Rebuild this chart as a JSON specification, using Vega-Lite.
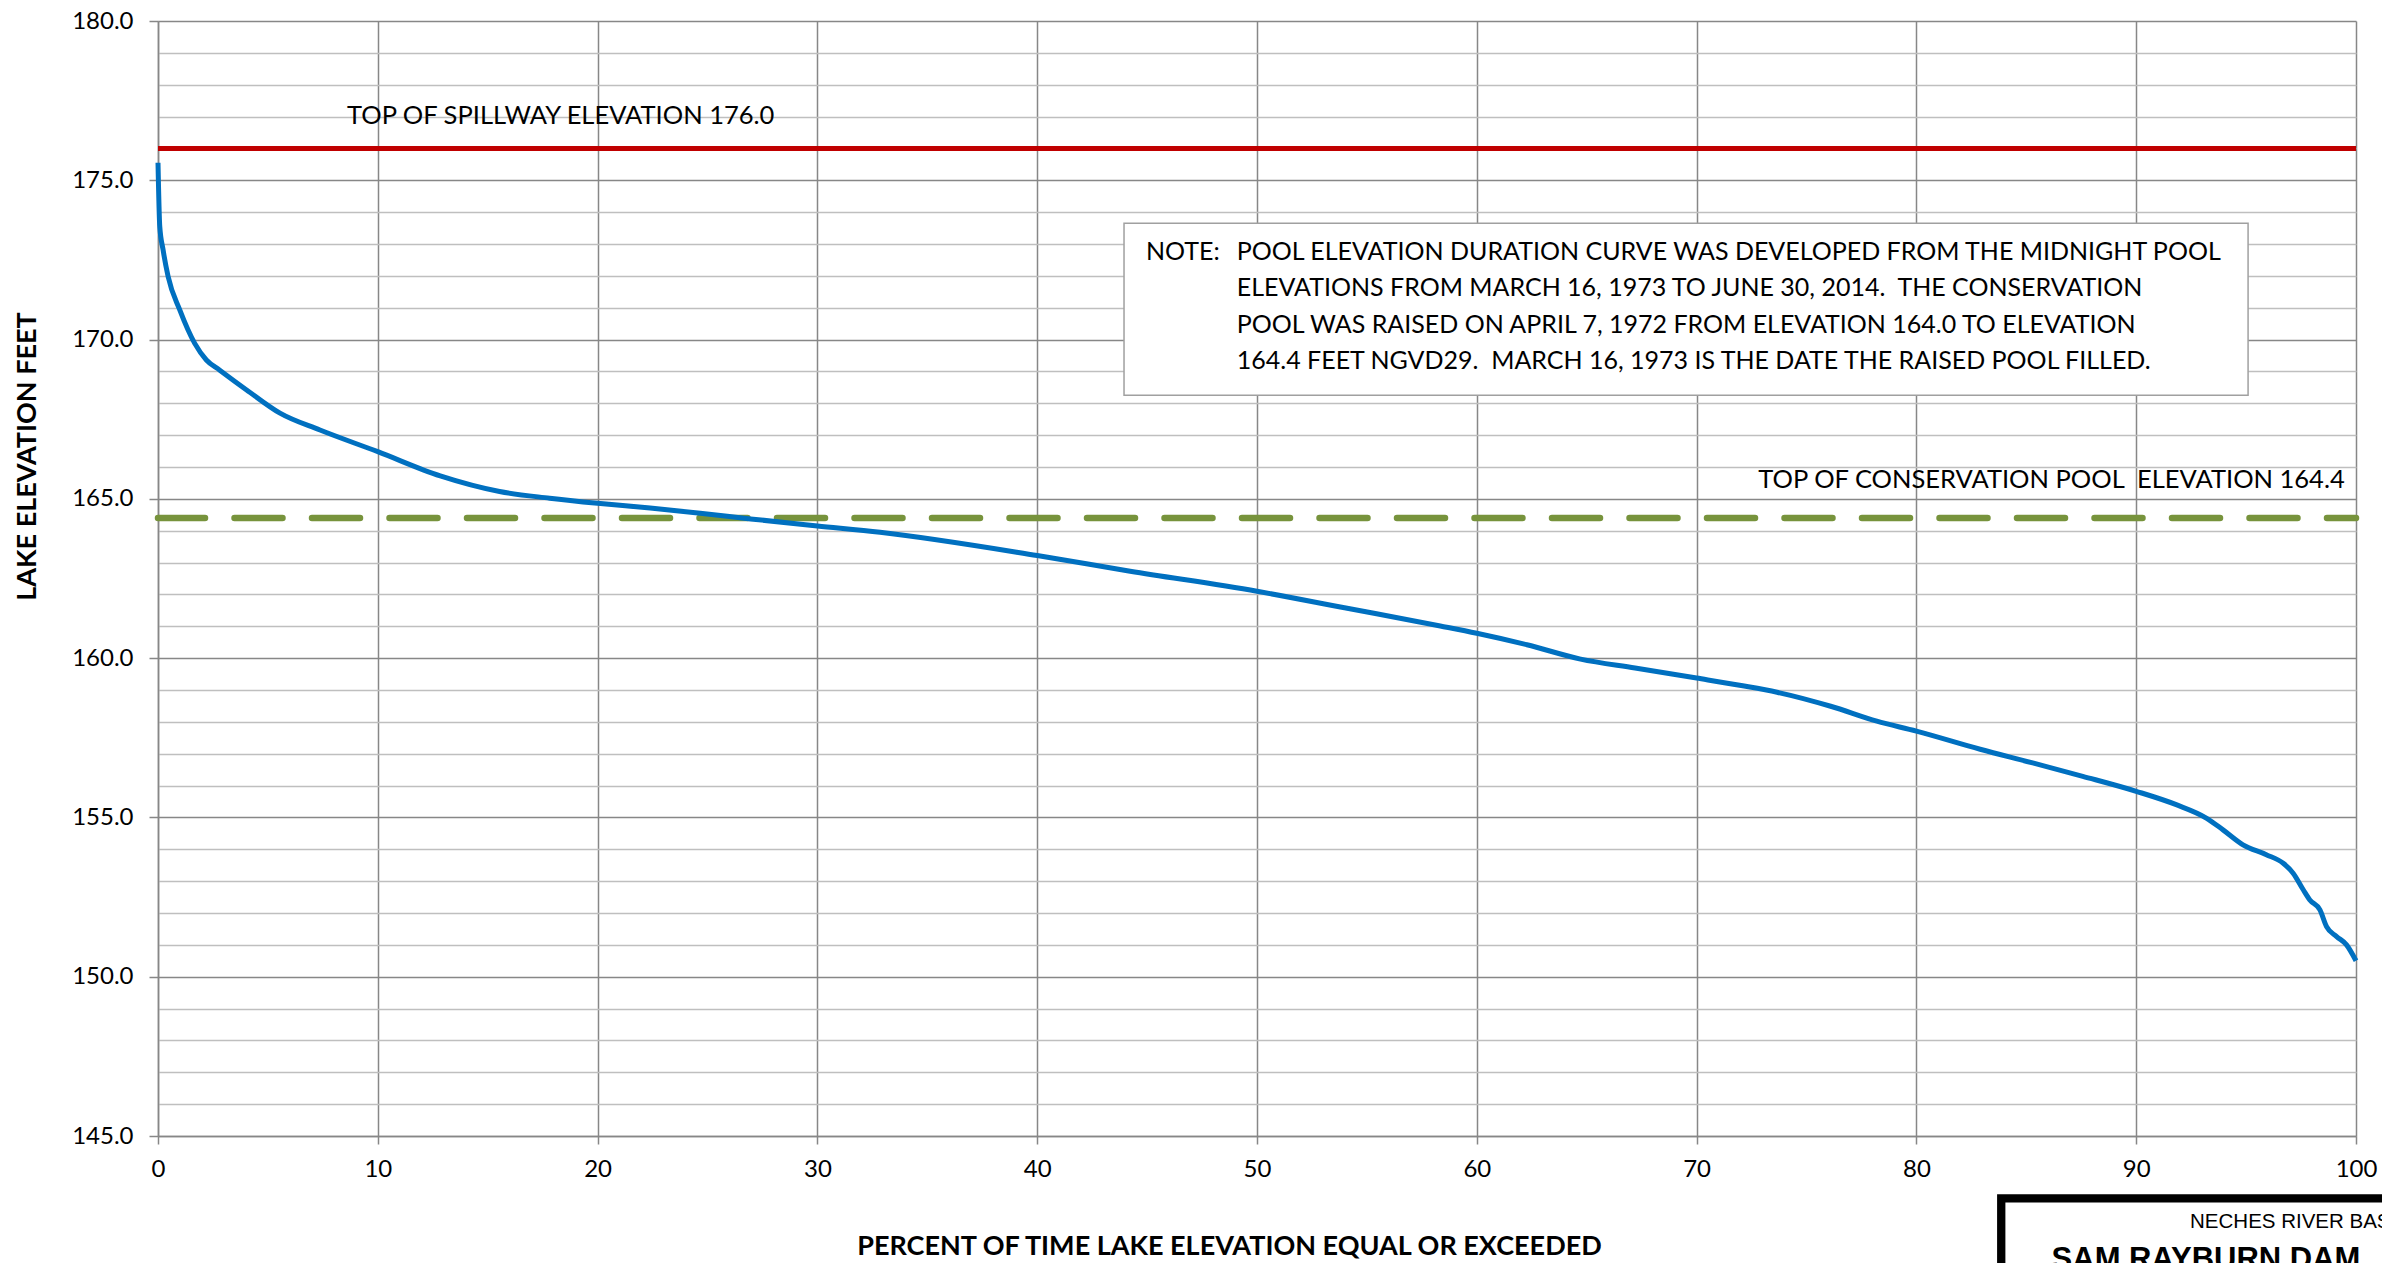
{
  "$schema": "https://vega.github.io/schema/vega-lite/v6.json",
  "width": 2198,
  "height": 1115,
  "autosize": {"type": "none"},
  "padding": {"left": 158, "top": 21, "right": 26, "bottom": 127},
  "background": "white",
  "config": {"view": {"stroke": null}, "font": "Lato"},
  "datasets": {
    "curve": [
      {"pct": 0, "elev": 175.55},
      {"pct": 0.08, "elev": 173.55},
      {"pct": 0.23, "elev": 172.82},
      {"pct": 0.46, "elev": 171.98},
      {"pct": 0.99, "elev": 170.93},
      {"pct": 1.67, "elev": 169.88},
      {"pct": 2.2, "elev": 169.36},
      {"pct": 2.81, "elev": 169.04},
      {"pct": 4.03, "elev": 168.42},
      {"pct": 5.55, "elev": 167.69},
      {"pct": 7.37, "elev": 167.16},
      {"pct": 10, "elev": 166.48},
      {"pct": 12.84, "elev": 165.72},
      {"pct": 15.54, "elev": 165.23},
      {"pct": 17.82, "elev": 165.02},
      {"pct": 20, "elev": 164.86},
      {"pct": 22.39, "elev": 164.71},
      {"pct": 24.67, "elev": 164.55},
      {"pct": 26.96, "elev": 164.37},
      {"pct": 30, "elev": 164.15},
      {"pct": 32.85, "elev": 163.95},
      {"pct": 40, "elev": 163.22},
      {"pct": 44.23, "elev": 162.73},
      {"pct": 50, "elev": 162.1},
      {"pct": 53.98, "elev": 161.58},
      {"pct": 58.34, "elev": 161.01},
      {"pct": 60, "elev": 160.78},
      {"pct": 62.28, "elev": 160.42},
      {"pct": 64.72, "elev": 159.97},
      {"pct": 67.2, "elev": 159.69},
      {"pct": 70, "elev": 159.375},
      {"pct": 72.03, "elev": 159.14},
      {"pct": 73.66, "elev": 158.93},
      {"pct": 76.1, "elev": 158.49},
      {"pct": 78.2, "elev": 158.02},
      {"pct": 80, "elev": 157.71},
      {"pct": 82.9, "elev": 157.14},
      {"pct": 85.29, "elev": 156.71},
      {"pct": 87.57, "elev": 156.29},
      {"pct": 90, "elev": 155.82},
      {"pct": 91.82, "elev": 155.4},
      {"pct": 93.19, "elev": 154.98},
      {"pct": 93.95, "elev": 154.61},
      {"pct": 94.86, "elev": 154.14},
      {"pct": 95.92, "elev": 153.83},
      {"pct": 96.69, "elev": 153.56},
      {"pct": 97.14, "elev": 153.25},
      {"pct": 97.6, "elev": 152.73},
      {"pct": 97.9, "elev": 152.41},
      {"pct": 98.36, "elev": 152.1},
      {"pct": 98.66, "elev": 151.57},
      {"pct": 99.12, "elev": 151.26},
      {"pct": 99.57, "elev": 151.0},
      {"pct": 100, "elev": 150.5}
    ],
    "spill": [{"elev": 176.0}],
    "cons": [{"elev": 164.4}],
    "notebox": [{"pct": 43.95, "pct2": 95.09, "elev": 173.65, "elev2": 168.25}],
    "notetext": [
      {"pct": 44.95, "elev": 172.5, "text": "NOTE:"},
      {"pct": 49.08, "elev": 172.5, "text": "POOL ELEVATION DURATION CURVE WAS DEVELOPED FROM THE MIDNIGHT POOL"},
      {"pct": 49.08, "elev": 171.36, "text": "ELEVATIONS FROM MARCH 16, 1973 TO JUNE 30, 2014.\u00a0 THE CONSERVATION"},
      {"pct": 49.08, "elev": 170.22, "text": "POOL WAS RAISED ON APRIL 7, 1972 FROM ELEVATION 164.0 TO ELEVATION"},
      {"pct": 49.08, "elev": 169.08, "text": "164.4 FEET NGVD29.\u00a0 MARCH 16, 1973 IS THE DATE THE RAISED POOL FILLED."}
    ],
    "annot": [
      {"pct": 8.6, "elev": 176.77, "text": "TOP OF SPILLWAY ELEVATION 176.0"},
      {"pct": 72.81, "elev": 165.33, "text": "TOP OF CONSERVATION POOL\u00a0 ELEVATION 164.4"}
    ],
    "titlebox": [{"pct": 83.86, "pct2": 125, "elev": 143.04, "elev2": 130}],
    "titletext1": [{"pct": 92.45, "elev": 142.1, "text": "NECHES RIVER BASIN"}],
    "titletext2": [{"pct": 86.15, "elev": 140.82, "text": "SAM RAYBURN DAM"}]
  },
  "layer": [
    {
      "data": {"name": "notebox"},
      "mark": {"type": "rect", "fill": "white", "stroke": "#A0A0A0", "strokeWidth": 1.5},
      "encoding": {
        "x": {
          "field": "pct", "type": "quantitative",
          "scale": {"domain": [0, 100], "nice": false, "zero": false},
          "axis": {
            "values": [0, 10, 20, 30, 40, 50, 60, 70, 80, 90, 100],
            "tickCount": 100,
            "format": "d",
            "title": "PERCENT OF TIME LAKE ELEVATION EQUAL OR EXCEEDED",
            "titleFont": "Lato", "titleFontWeight": "bold", "titleFontSize": 27, "titleColor": "#000000",
            "titleX": 1071, "titleY": 110, "titleAlign": "center", "titleBaseline": "middle", "titleAnchor": null,
            "labelFont": "Lato", "labelFontSize": 24, "labelColor": "#000000", "labelPadding": 13,
            "labelFlush": false, "labelOverlap": false,
            "tickSize": 8, "tickColor": "#878787", "tickWidth": 1.5,
            "domainColor": "#878787", "domainWidth": 1.5,
            "grid": true, "gridColor": "#878787", "gridWidth": 1.5
          }
        },
        "x2": {"field": "pct2"},
        "y": {
          "field": "elev", "type": "quantitative",
          "scale": {"domain": [145, 180], "nice": false, "zero": false},
          "axis": {
            "values": [145,146,147,148,149,150,151,152,153,154,155,156,157,158,159,160,161,162,163,164,165,166,167,168,169,170,171,172,173,174,175,176,177,178,179,180],
            "tickCount": 100,
            "labelExpr": "datum.value % 5 === 0 ? format(datum.value, '.1f') : ''",
            "title": "LAKE ELEVATION FEET",
            "titleFont": "Lato", "titleFontWeight": "bold", "titleFontSize": 27, "titleColor": "#000000",
            "titleX": -131, "titleY": 435, "titleAngle": 270, "titleAlign": "center", "titleBaseline": "middle", "titleAnchor": null,
            "labelFont": "Lato", "labelFontSize": 24, "labelColor": "#000000", "labelPadding": 16,
            "labelFlush": false, "labelOverlap": false,
            "tickSize": 9, "tickWidth": 1.5,
            "tickColor": "#878787",
            "tickOpacity": {"condition": {"test": "datum.value % 5 === 0", "value": 1}, "value": 0},
            "domainColor": "#878787", "domainWidth": 1.5,
            "grid": true,
            "gridColor": {"condition": {"test": "datum.value % 5 === 0", "value": "#878787"}, "value": "#BFBFBF"},
            "gridWidth": 1.5
          }
        },
        "y2": {"field": "elev2"}
      }
    },
    {
      "data": {"name": "notetext"},
      "mark": {"type": "text", "align": "left", "baseline": "alphabetic", "font": "Lato", "fontSize": 25, "color": "#000000"},
      "encoding": {
        "x": {"field": "pct", "type": "quantitative"},
        "y": {"field": "elev", "type": "quantitative"},
        "text": {"field": "text"}
      }
    },
    {
      "data": {"name": "spill"},
      "mark": {"type": "rule", "color": "#C00000", "strokeWidth": 5},
      "encoding": {"y": {"field": "elev", "type": "quantitative"}}
    },
    {
      "data": {"name": "cons"},
      "mark": {"type": "rule", "color": "#77933C", "strokeWidth": 6.5, "strokeCap": "round", "strokeDash": [48, 29.5], "strokeDashOffset": 19},
      "encoding": {"y": {"field": "elev", "type": "quantitative"}}
    },
    {
      "data": {"name": "curve"},
      "mark": {"type": "line", "interpolate": "monotone", "color": "#0070C0", "strokeWidth": 5},
      "encoding": {
        "x": {"field": "pct", "type": "quantitative"},
        "y": {"field": "elev", "type": "quantitative"}
      }
    },
    {
      "data": {"name": "annot"},
      "mark": {"type": "text", "align": "left", "baseline": "alphabetic", "font": "Lato", "fontSize": 25.5, "color": "#000000"},
      "encoding": {
        "x": {"field": "pct", "type": "quantitative"},
        "y": {"field": "elev", "type": "quantitative"},
        "text": {"field": "text"}
      }
    },
    {
      "data": {"name": "titlebox"},
      "mark": {"type": "rect", "fill": "white", "stroke": "#000000", "strokeWidth": 8.3, "clip": false},
      "encoding": {
        "x": {"field": "pct", "type": "quantitative"},
        "x2": {"field": "pct2"},
        "y": {"field": "elev", "type": "quantitative"},
        "y2": {"field": "elev2"}
      }
    },
    {
      "data": {"name": "titletext1"},
      "mark": {"type": "text", "align": "left", "baseline": "alphabetic", "font": "Liberation Sans", "fontSize": 20.5, "color": "#000000"},
      "encoding": {
        "x": {"field": "pct", "type": "quantitative"},
        "y": {"field": "elev", "type": "quantitative"},
        "text": {"field": "text"}
      }
    },
    {
      "data": {"name": "titletext2"},
      "mark": {"type": "text", "align": "left", "baseline": "alphabetic", "font": "Liberation Sans", "fontWeight": "bold", "fontSize": 31, "color": "#000000"},
      "encoding": {
        "x": {"field": "pct", "type": "quantitative"},
        "y": {"field": "elev", "type": "quantitative"},
        "text": {"field": "text"}
      }
    }
  ]
}
